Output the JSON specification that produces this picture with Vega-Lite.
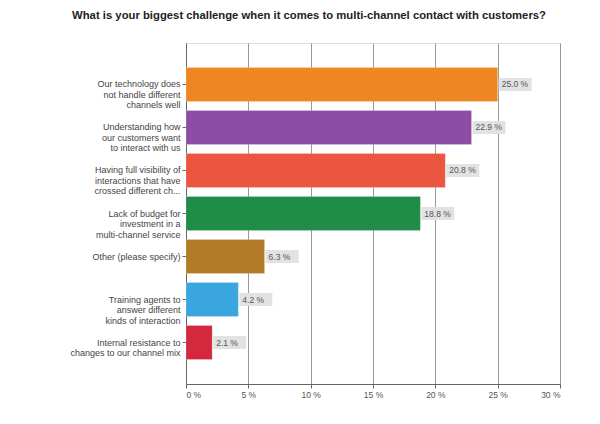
{
  "$schema": "https://vega.github.io/schema/vega-lite/v6.json",
  "width": 374,
  "height": 341,
  "autosize": {"type": "none"},
  "padding": {"left": 186, "top": 43, "right": 40, "bottom": 40},
  "background": "white",
  "title": {
    "text": "What is your biggest challenge when it comes to multi-channel contact with customers?",
    "font": "Liberation Sans",
    "fontSize": 11.3,
    "fontWeight": "bold",
    "color": "#222",
    "anchor": "middle",
    "dx": -64,
    "offset": 22
  },
  "data": {
    "values": [
      {"label": "Our technology does|not handle different|channels well", "value": 25.0, "text": "25.0 %", "color": "#EE8624"},
      {"label": "Understanding how|our customers want|to interact with us", "value": 22.9, "text": "22.9 %", "color": "#8E4DA5"},
      {"label": "Having full visibility of|interactions that have|crossed different ch...", "value": 20.8, "text": "20.8 %", "color": "#EA5640"},
      {"label": "Lack of budget for|investment in a|multi-channel service", "value": 18.8, "text": "18.8 %", "color": "#1F8C48"},
      {"label": "Other (please specify)", "value": 6.3, "text": "6.3 %", "color": "#B27B28"},
      {"label": "Training agents to|answer different|kinds of interaction", "value": 4.2, "text": "4.2 %", "color": "#3AA6E0"},
      {"label": "Internal resistance to|changes to our channel mix", "value": 2.1, "text": "2.1 %", "color": "#D3283D"}
    ]
  },
  "encoding": {
    "y": {
      "field": "label",
      "type": "nominal",
      "sort": null,
      "scale": {"paddingInner": 0.21, "paddingOuter": 0.57},
      "axis": {
        "title": null,
        "labelExpr": "split(datum.label, '|')",
        "labelFont": "Liberation Sans",
        "labelFontSize": 9,
        "labelColor": "#444",
        "labelLineHeight": 10.5,
        "labelLimit": 200,
        "labelPadding": 2,
        "tickSize": 4,
        "tickColor": "#666",
        "domainColor": "#666"
      }
    },
    "x": {
      "field": "value",
      "type": "quantitative",
      "scale": {"domain": [0, 30], "nice": false},
      "axis": {
        "title": null,
        "values": [0, 5, 10, 15, 20, 25, 30],
        "labelExpr": "datum.value + ' %'",
        "labelFont": "Liberation Sans",
        "labelFontSize": 8.5,
        "labelColor": "#555",
        "tickSize": 4,
        "tickColor": "#666",
        "domainColor": "#666",
        "grid": true,
        "gridColor": "#999",
        "gridWidth": 1
      }
    }
  },
  "layer": [
    {
      "mark": {"type": "bar", "stroke": "#ffffff", "strokeOpacity": 0.4, "strokeWidth": 0.5},
      "encoding": {
        "color": {"field": "color", "type": "nominal", "scale": null, "legend": null}
      }
    },
    {
      "mark": {
        "type": "point",
        "shape": "M0.1,-0.65H3.4V0.65H0.1Z",
        "size": 400,
        "filled": true,
        "color": "#E2E2E2",
        "opacity": 1
      },
      "encoding": {}
    },
    {
      "mark": {
        "type": "text",
        "align": "left",
        "baseline": "middle",
        "dx": 4,
        "font": "Liberation Sans",
        "fontSize": 8.5,
        "color": "#555"
      },
      "encoding": {"text": {"field": "text"}}
    }
  ]
}
